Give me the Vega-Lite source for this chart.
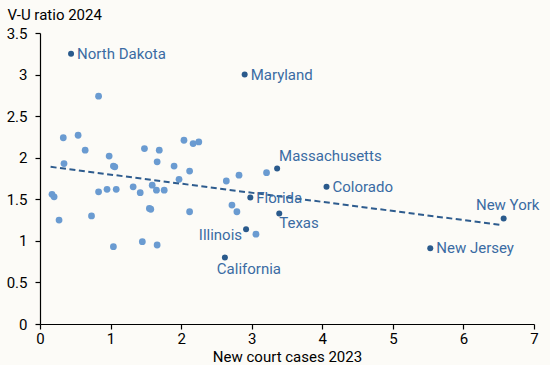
{
  "$schema": "https://vega.github.io/schema/vega-lite/v6.json",
  "autosize": "none",
  "width": 494,
  "height": 291,
  "padding": {"left": 40, "top": 33, "right": 16, "bottom": 41},
  "background": "#FCFBF7",
  "config": {
    "view": {"stroke": null},
    "font": "Roboto",
    "axis": {"grid": false, "labelFlush": false, "domainColor": "#000000", "tickColor": "#000000", "labelColor": "#000000", "titleColor": "#000000", "labelFont": "Roboto", "titleFont": "Roboto", "labelFontSize": 15, "titleFontSize": 15, "titleFontWeight": "normal", "tickSize": 5, "domainWidth": 1.2, "tickWidth": 1.2}
  },
  "datasets": {
    "states": [
      {"x": 0.83, "y": 2.74, "name": ""},
      {"x": 0.33, "y": 2.24, "name": ""},
      {"x": 0.54, "y": 2.27, "name": ""},
      {"x": 0.64, "y": 2.09, "name": ""},
      {"x": 0.34, "y": 1.93, "name": ""},
      {"x": 0.98, "y": 2.02, "name": ""},
      {"x": 1.04, "y": 1.90, "name": ""},
      {"x": 1.06, "y": 1.89, "name": ""},
      {"x": 1.48, "y": 2.11, "name": ""},
      {"x": 1.69, "y": 2.09, "name": ""},
      {"x": 1.66, "y": 1.95, "name": ""},
      {"x": 2.04, "y": 2.21, "name": ""},
      {"x": 2.17, "y": 2.17, "name": ""},
      {"x": 2.25, "y": 2.19, "name": ""},
      {"x": 1.90, "y": 1.90, "name": ""},
      {"x": 2.12, "y": 1.84, "name": ""},
      {"x": 1.97, "y": 1.74, "name": ""},
      {"x": 2.64, "y": 1.72, "name": ""},
      {"x": 2.82, "y": 1.79, "name": ""},
      {"x": 3.21, "y": 1.82, "name": ""},
      {"x": 0.17, "y": 1.56, "name": ""},
      {"x": 0.20, "y": 1.53, "name": ""},
      {"x": 0.27, "y": 1.25, "name": ""},
      {"x": 0.73, "y": 1.30, "name": ""},
      {"x": 0.83, "y": 1.59, "name": ""},
      {"x": 0.95, "y": 1.62, "name": ""},
      {"x": 1.08, "y": 1.62, "name": ""},
      {"x": 1.04, "y": 0.93, "name": ""},
      {"x": 1.32, "y": 1.65, "name": ""},
      {"x": 1.42, "y": 1.58, "name": ""},
      {"x": 1.55, "y": 1.39, "name": ""},
      {"x": 1.57, "y": 1.38, "name": ""},
      {"x": 1.45, "y": 0.99, "name": ""},
      {"x": 1.66, "y": 0.95, "name": ""},
      {"x": 1.59, "y": 1.67, "name": ""},
      {"x": 1.65, "y": 1.61, "name": ""},
      {"x": 1.76, "y": 1.61, "name": ""},
      {"x": 2.12, "y": 1.35, "name": ""},
      {"x": 2.72, "y": 1.43, "name": ""},
      {"x": 2.79, "y": 1.35, "name": ""},
      {"x": 3.06, "y": 1.08, "name": ""},
      {"x": 0.44, "y": 3.25, "name": "North Dakota"},
      {"x": 2.90, "y": 3.00, "name": "Maryland"},
      {"x": 3.36, "y": 1.87, "name": "Massachusetts"},
      {"x": 4.06, "y": 1.65, "name": "Colorado"},
      {"x": 2.98, "y": 1.52, "name": "Florida"},
      {"x": 3.39, "y": 1.33, "name": "Texas"},
      {"x": 2.92, "y": 1.14, "name": "Illinois"},
      {"x": 2.62, "y": 0.80, "name": "California"},
      {"x": 6.57, "y": 1.27, "name": "New York"},
      {"x": 5.53, "y": 0.91, "name": "New Jersey"}
    ],
    "trend": [
      {"x": 0.15, "y": 1.89},
      {"x": 6.55, "y": 1.19}
    ]
  },
  "layer": [
    {
      "data": {"name": "states"},
      "transform": [{"filter": "datum.name === ''"}],
      "mark": {"type": "circle", "size": 46, "color": "#6A9BD1", "opacity": 1},
      "encoding": {
        "x": {"field": "x", "type": "quantitative", "scale": {"domain": [0, 7], "nice": false, "zero": true, "padding": 0}, "axis": {"values": [0,1,2,3,4,5,6,7], "format": "~g", "title": "New court cases 2023", "titleY": 37, "titleBaseline": "alphabetic", "labelPadding": 2}},
        "y": {"field": "y", "type": "quantitative", "scale": {"domain": [0, 3.5], "nice": false, "padding": 0}, "axis": {"values": [0,0.5,1,1.5,2,2.5,3,3.5], "format": "~g", "title": "V-U ratio 2024", "titleAngle": 0, "titleAlign": "left", "titleBaseline": "alphabetic", "titleX": -33, "titleY": -14, "labelPadding": 8}}
      }
    },
    {
      "data": {"name": "trend"},
      "mark": {"type": "line", "color": "#2E5C8E", "strokeWidth": 2, "strokeDash": [6, 3.5]},
      "encoding": {
        "x": {"field": "x", "type": "quantitative"},
        "y": {"field": "y", "type": "quantitative"}
      }
    },
    {
      "data": {"name": "states"},
      "transform": [{"filter": "datum.name !== ''"}],
      "mark": {"type": "circle", "size": 36, "color": "#2A5A8C", "opacity": 1},
      "encoding": {
        "x": {"field": "x", "type": "quantitative"},
        "y": {"field": "y", "type": "quantitative"}
      }
    },
    {
      "data": {"name": "states"},
      "transform": [{"filter": "indexof(['North Dakota','Maryland','Colorado','New Jersey','Florida'], datum.name) >= 0"}],
      "mark": {"type": "text", "align": "left", "baseline": "middle", "dx": 6, "dy": 0, "fontSize": 15, "color": "#3A6BA3", "font": "Roboto"},
      "encoding": {
        "x": {"field": "x", "type": "quantitative"},
        "y": {"field": "y", "type": "quantitative"},
        "text": {"field": "name"}
      }
    },
    {
      "data": {"name": "states"},
      "transform": [{"filter": "datum.name === 'Massachusetts'"}],
      "mark": {"type": "text", "align": "left", "baseline": "middle", "dx": 2, "dy": -13, "fontSize": 15, "color": "#3A6BA3", "font": "Roboto"},
      "encoding": {
        "x": {"field": "x", "type": "quantitative"},
        "y": {"field": "y", "type": "quantitative"},
        "text": {"field": "name"}
      }
    },
    {
      "data": {"name": "states"},
      "transform": [{"filter": "datum.name === 'Texas'"}],
      "mark": {"type": "text", "align": "left", "baseline": "middle", "dx": 0, "dy": 10, "fontSize": 15, "color": "#3A6BA3", "font": "Roboto"},
      "encoding": {
        "x": {"field": "x", "type": "quantitative"},
        "y": {"field": "y", "type": "quantitative"},
        "text": {"field": "name"}
      }
    },
    {
      "data": {"name": "states"},
      "transform": [{"filter": "datum.name === 'Illinois'"}],
      "mark": {"type": "text", "align": "right", "baseline": "middle", "dx": -4, "dy": 6, "fontSize": 15, "color": "#3A6BA3", "font": "Roboto"},
      "encoding": {
        "x": {"field": "x", "type": "quantitative"},
        "y": {"field": "y", "type": "quantitative"},
        "text": {"field": "name"}
      }
    },
    {
      "data": {"name": "states"},
      "transform": [{"filter": "datum.name === 'California'"}],
      "mark": {"type": "text", "align": "center", "baseline": "middle", "dx": 24, "dy": 12, "fontSize": 15, "color": "#3A6BA3", "font": "Roboto"},
      "encoding": {
        "x": {"field": "x", "type": "quantitative"},
        "y": {"field": "y", "type": "quantitative"},
        "text": {"field": "name"}
      }
    },
    {
      "data": {"name": "states"},
      "transform": [{"filter": "datum.name === 'New York'"}],
      "mark": {"type": "text", "align": "center", "baseline": "middle", "dx": 4, "dy": -13, "fontSize": 15, "color": "#3A6BA3", "font": "Roboto"},
      "encoding": {
        "x": {"field": "x", "type": "quantitative"},
        "y": {"field": "y", "type": "quantitative"},
        "text": {"field": "name"}
      }
    }
  ]
}
